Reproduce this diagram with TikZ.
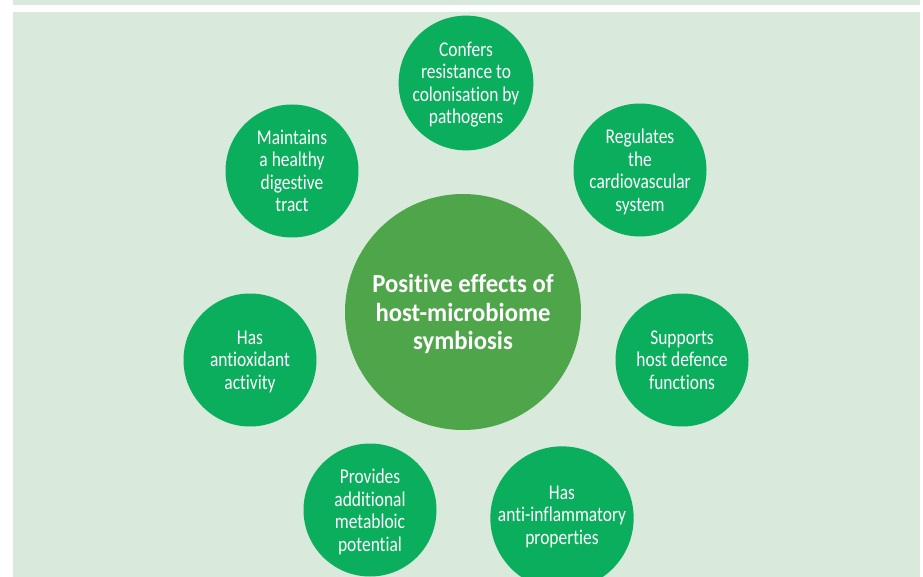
\documentclass[tikz,border=0pt]{standalone}
\usepackage{fontspec}
\setmainfont{Carlito}[Ligatures=NoCommon]
\newfontfamily\effectfont[FakeStretch=0.83,Ligatures=NoCommon]{Carlito}
\newfontfamily\hubfont[FakeStretch=0.95,Ligatures=NoCommon]{Carlito}
\usepackage{tikz}

\definecolor{panelgreen}{HTML}{D9EADC}
\definecolor{effectgreen}{HTML}{0AAE5D}
\definecolor{hubgreen}{HTML}{4EA54A}

\begin{document}
\begin{tikzpicture}[x=1pt,y=-1pt,
  effect/.style={circle,fill=effectgreen,text=white,minimum size=133pt,inner sep=0pt,
    align=center,text depth=-6pt,font=\effectfont\fontsize{21}{22.5}\selectfont},
  hub/.style={circle,fill=hubgreen,text=white,minimum size=236pt,inner sep=0pt,
    align=center,text depth=0pt,font=\hubfont\bfseries\fontsize{26}{28.5}\selectfont}]
\useasboundingbox (0,0) rectangle (923,577);
% background panel
\fill[panelgreen] (13,0) rectangle (920,5);
\fill[panelgreen] (13,12) rectangle (920,577);
% centre
\node[hub] (hub) at (463,312) {Positive effects of\\host-microbiome\\symbiosis};
% effects, clockwise from the top
\node[effect] (resist) at (466,83) {Confers\\resistance to\\colonisation by\\pathogens};
\node[effect] (cardio) at (640,170) {Regulates\\the\\cardiovascular\\system};
\node[effect,text depth=-1pt] (defence) at (682,360) {Supports\\host defence\\functions};
\node[effect,text depth=6pt] (inflam) at (562,518) {Has\\anti-inflammatory\\properties};
\node[effect] (metab) at (370,510) {Provides\\additional\\metabloic\\potential};
\node[effect,text depth=-1pt] (oxid) at (250,360) {Has\\antioxidant\\activity};
\node[effect] (digest) at (292,171) {Maintains\\a healthy\\digestive\\tract};
\end{tikzpicture}
\end{document}
